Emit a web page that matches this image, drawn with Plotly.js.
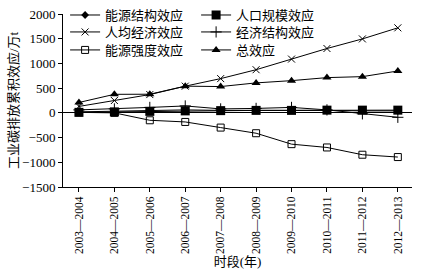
<!DOCTYPE html>
<html>
<head>
<meta charset="utf-8">
<script src="https://cdn.plot.ly/plotly-3.0.1.min.js"></script>
<style>html,body{margin:0;padding:0;background:#fff;}#chart{width:422px;height:274px;}</style>
</head>
<body>
<div id="chart"></div>
<script>
const periods = ["2003—2004","2004—2005","2005—2006","2006—2007","2007—2008","2008—2009","2009—2010","2010—2011","2011—2012","2012—2013"];
const energyStructure = [20, 30, 40, 60, 50, 50, 60, 50, 40, 40];
const populationScale = [10, 20, 30, 40, 45, 50, 50, 55, 55, 55];
const perCapitaEconomy = [130, 250, 370, 540, 693, 873, 1088, 1302, 1496, 1720];
const economicStructure = [60, 80, 110, 140, 80, 90, 110, 60, -20, -90];
const energyIntensity = [10, 0, -150, -184, -298, -412, -633, -700, -847, -894];
const totalEffect = [210, 375, 377, 540, 532, 606, 652, 713, 733, 847];

const names = ["能源结构效应","人口规模效应","人均经济效应","经济结构效应","能源强度效应","总效应"];
const seriesData = [energyStructure, populationScale, perCapitaEconomy, economicStructure, energyIntensity, totalEffect];
const legendIds = ["legend","legend","legend2","legend2","legend3","legend3"];
const markers = [
  {symbol:"diamond", size:6, color:"#000"},
  {symbol:"square", size:9, color:"#000"},
  {symbol:"x-thin", size:7, color:"#000", line:{width:1, color:"#000"}},
  {symbol:"cross-thin", size:8, color:"#000", line:{width:1, color:"#000"}},
  {symbol:"square-open", size:7, color:"#000", line:{width:1, color:"#000"}},
  {symbol:"triangle-up", size:8, color:"#000"}
];
const traces = seriesData.map((d,i)=>({
  type:"scatter", mode:"lines+markers", x: periods, y: d, name: names[i],
  legend: legendIds[i],
  line:{color:"#000", width:1}, marker: markers[i]
}));

const serif = "Liberation Serif, Times New Roman, serif";
const cjk = "Liberation Serif, Noto Sans CJK SC, serif";
function leg(y){
  return {orientation:"h", x:0.006, y:y, xanchor:"left", yanchor:"middle",
    bgcolor:"rgba(0,0,0,0)", font:{family:cjk, size:13, color:"#000"},
    entrywidth:86, entrywidthmode:"pixels", tracegroupgap:0, itemwidth:30, borderwidth:0};
}
const layout = {
  width:422, height:274,
  margin:{l:63, r:10, t:14, b:87, autoexpand:false},
  paper_bgcolor:"#fff", plot_bgcolor:"#fff",
  showlegend:true,
  legend: leg(0.994), legend2: leg(0.896), legend3: leg(0.792),
  xaxis:{type:"category", range:[-0.45, 9.4], showline:true, linecolor:"#000", linewidth:1,
    ticks:"outside", ticklen:4, tickcolor:"#000", tickangle:-90, automargin:false,
    tickfont:{family:serif, size:11.5, color:"#000"}, showgrid:false, zeroline:false,
    title:{text:"时段(年)", font:{family:cjk, size:13, color:"#000"}, standoff:0}},
  yaxis:{range:[-1500, 2000], tickvals:[-1500,-1000,-500,0,500,1000,1500,2000],
    ticktext:["−1500","−1000","−500","0","500","1000","1500","2000"], automargin:false,
    showline:true, linecolor:"#000", linewidth:1, ticks:"outside", ticklen:4, tickcolor:"#000",
    tickfont:{family:serif, size:13, color:"#000"}, showgrid:false,
    zeroline:true, zerolinecolor:"#000", zerolinewidth:1,
    title:{text:"工业碳排放累积效应/万t", font:{family:cjk, size:13, color:"#000"}, standoff:0}}
};
Plotly.newPlot("chart", traces, layout, {displayModeBar:false, staticPlot:true});
</script>
</body>
</html>
